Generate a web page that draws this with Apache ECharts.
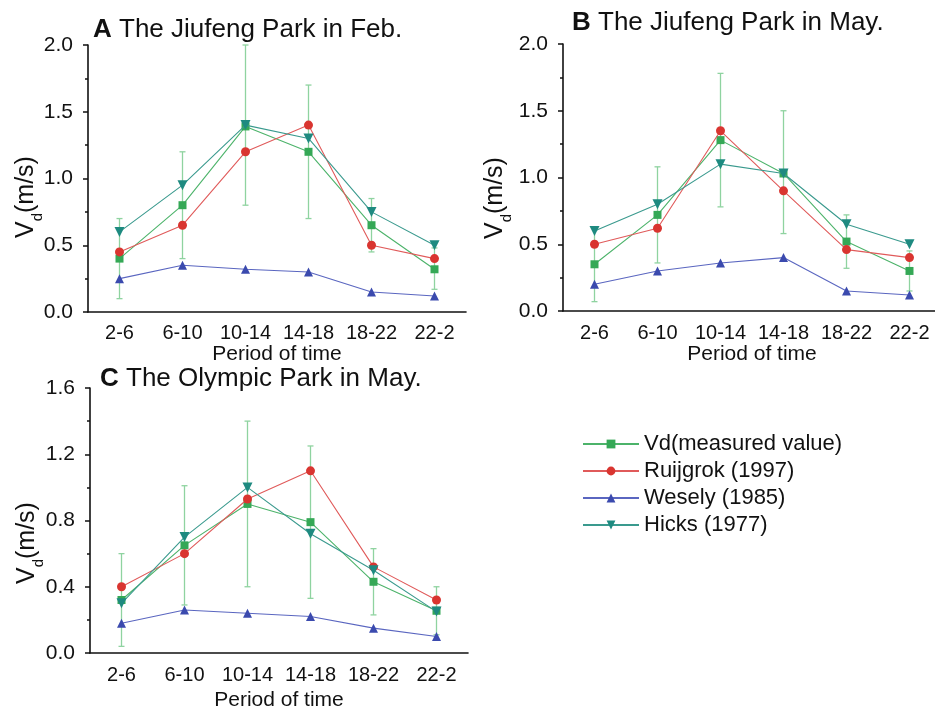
<!DOCTYPE html>
<html>
<head>
<meta charset="utf-8">
<script src="https://cdn.jsdelivr.net/npm/echarts@6/dist/echarts.min.js"></script>
<style>
html,body{margin:0;padding:0;background:#fff;}
#chart{width:935px;height:713px;}
</style>
</head>
<body>
<div id="chart"></div>
<script>
var periods = ['2-6', '6-10', '10-14', '14-18', '18-22', '22-2'];
var seriesNames = ['Vd(measured value)', 'Ruijgrok (1997)', 'Wesely (1985)', 'Hicks (1977)'];

// A - Jiufeng Park, Feb.
var vdA = [0.40, 0.80, 1.39, 1.20, 0.65, 0.32];
var vdLowA = [0.10, 0.40, 0.80, 0.70, 0.45, 0.17];
var vdHighA = [0.70, 1.20, 2.00, 1.70, 0.85, 0.48];
var ruijA = [0.45, 0.65, 1.20, 1.40, 0.50, 0.40];
var weseA = [0.25, 0.35, 0.32, 0.30, 0.15, 0.12];
var hickA = [0.60, 0.95, 1.40, 1.30, 0.75, 0.50];

// B - Jiufeng Park, May
var vdB = [0.35, 0.72, 1.28, 1.03, 0.52, 0.30];
var vdLowB = [0.07, 0.36, 0.78, 0.58, 0.32, 0.15];
var vdHighB = [0.62, 1.08, 1.78, 1.50, 0.72, 0.45];
var ruijB = [0.50, 0.62, 1.35, 0.90, 0.46, 0.40];
var weseB = [0.20, 0.30, 0.36, 0.40, 0.15, 0.12];
var hickB = [0.60, 0.80, 1.10, 1.03, 0.65, 0.50];

// C - Olympic Park, May
var vdC = [0.32, 0.65, 0.90, 0.79, 0.43, 0.255];
var vdLowC = [0.04, 0.29, 0.40, 0.33, 0.23, 0.11];
var vdHighC = [0.60, 1.01, 1.40, 1.25, 0.63, 0.40];
var ruijC = [0.40, 0.60, 0.93, 1.10, 0.52, 0.32];
var weseC = [0.18, 0.26, 0.24, 0.22, 0.15, 0.10];
var hickC = [0.30, 0.70, 1.00, 0.72, 0.50, 0.25];

var FONT = 'Liberation Sans, Arial, sans-serif';
var colors = ['#35a856', '#d93530', '#3b4aae', '#1e8a80'];
var lineColors = ['#4cb36a', '#e05a5a', '#5a66c0', '#3a9a8e'];

var panels = [
	{letter: 'A', title: ' The Jiufeng Park in Feb.', left: 88, top: 45, height: 267, max: 2.0, interval: 0.5,
	 tx: 93, ty: 30, nx: 26, ny: 196, labelMargin: 11, nameGap: 32,
	 vd: vdA, low: vdLowA, high: vdHighA, ruij: ruijA, wese: weseA, hick: hickA},
	{letter: 'B', title: ' The Jiufeng Park in May.', left: 563, top: 44, height: 267, max: 2.0, interval: 0.5,
	 tx: 572, ty: 23, nx: 495, ny: 197, labelMargin: 12, nameGap: 33,
	 vd: vdB, low: vdLowB, high: vdHighB, ruij: ruijB, wese: weseB, hick: hickB},
	{letter: 'C', title: ' The Olympic Park in May.', left: 90, top: 388, height: 265, max: 1.6, interval: 0.4,
	 tx: 100, ty: 379, nx: 27, ny: 542, labelMargin: 12, nameGap: 37,
	 vd: vdC, low: vdLowC, high: vdHighC, ruij: ruijC, wese: weseC, hick: hickC}
];

var grids = [], xAxes = [], yAxes = [], series = [], graphics = [];

function errorRender(params, api) {
	var x = api.value(0);
	var lo = api.coord([x, api.value(1)]);
	var hi = api.coord([x, api.value(2)]);
	var w = 3;
	var st = {stroke: '#8fd3a0', lineWidth: 1.3};
	return {
		type: 'group',
		children: [
			{type: 'line', shape: {x1: lo[0], y1: lo[1], x2: hi[0], y2: hi[1]}, style: st},
			{type: 'line', shape: {x1: lo[0] - w, y1: lo[1], x2: lo[0] + w, y2: lo[1]}, style: st},
			{type: 'line', shape: {x1: hi[0] - w, y1: hi[1], x2: hi[0] + w, y2: hi[1]}, style: st}
		]
	};
}

panels.forEach(function (p, gi) {
	grids.push({left: p.left, top: p.top, width: 378, height: p.height, outerBoundsMode: 'none'});
	// main axis: labels and ticks at category centres
	xAxes.push({
		type: 'category', gridIndex: gi, data: periods, position: 'bottom',
		name: 'Period of time', nameLocation: 'middle', nameGap: p.nameGap,
		nameTextStyle: {fontFamily: FONT, fontSize: 21, color: '#111'},
		axisLine: {lineStyle: {color: '#111', width: 1.6}},
		axisTick: {alignWithLabel: true, length: 5, lineStyle: {color: '#111', width: 1.5}},
		axisLabel: {fontFamily: FONT, fontSize: 20, color: '#111', margin: p.labelMargin, interval: 0},
		splitLine: {show: false}
	});
	// second axis only for the in-between ticks
	xAxes.push({
		type: 'category', gridIndex: gi, data: periods, position: 'bottom',
		axisLine: {show: false},
		axisTick: {length: 4, lineStyle: {color: '#111', width: 1.5}},
		axisLabel: {show: false},
		splitLine: {show: false}
	});
	yAxes.push({
		type: 'value', gridIndex: gi, min: 0, max: p.max, interval: p.interval,
		axisLine: {show: true, lineStyle: {color: '#111', width: 1.6}},
		axisTick: {show: true, length: 5, lineStyle: {color: '#111', width: 1.5}},
		minorTick: {show: true, splitNumber: 2, length: 3, lineStyle: {color: '#111', width: 1.5}},
		axisLabel: {fontFamily: FONT, fontSize: 21, color: '#111', margin: 15,
			formatter: function (v) { return v.toFixed(1); }},
		splitLine: {show: false}
	});

	var xi = gi * 2;
	var errData = p.low.map(function (v, i) { return [i, v, p.high[i]]; });
	series.push({
		type: 'custom', xAxisIndex: xi, yAxisIndex: gi, renderItem: errorRender,
		data: errData, z: 1, silent: true, clip: false
	});
	var sets = [p.vd, p.ruij, p.wese, p.hick];
	var symbols = ['rect', 'circle', 'triangle', 'triangle'];
	var sizes = [8, 9, 9, 10];
	var rotates = [0, 0, 0, 180];
	sets.forEach(function (d, si) {
		series.push({
			name: seriesNames[si], type: 'line', xAxisIndex: xi, yAxisIndex: gi,
			data: d, symbol: symbols[si], symbolSize: sizes[si], symbolRotate: rotates[si],
			showAllSymbol: true, z: 2 + si, animation: false,
			itemStyle: {color: colors[si]},
			lineStyle: {color: lineColors[si], width: 1.1}
		});
	});

	// panel title
	graphics.push({
		type: 'text', x: p.tx, y: p.ty,
		style: {
			text: '{b|' + p.letter + '}{n|' + p.title + '}',
			verticalAlign: 'middle', align: 'left',
			rich: {
				b: {fontFamily: FONT, fontSize: 26, fontWeight: 'bold', fill: '#111'},
				n: {fontFamily: FONT, fontSize: 26, fill: '#111'}
			}
		}
	});
	// y axis name V_d(m/s), rotated
	graphics.push({
		type: 'group', x: p.nx, y: p.ny, rotation: Math.PI / 2,
		children: [
			{type: 'text', x: -42, y: 0, style: {text: 'V', fontFamily: FONT, fontSize: 25, fill: '#111', verticalAlign: 'middle', align: 'left'}},
			{type: 'text', x: -25.3, y: 12, style: {text: 'd', fontFamily: FONT, fontSize: 15, fill: '#111', verticalAlign: 'middle', align: 'left'}},
			{type: 'text', x: -17, y: 0, style: {text: '(m/s)', fontFamily: FONT, fontSize: 25, fill: '#111', verticalAlign: 'middle', align: 'left'}}
		]
	});
});

var option = {
	backgroundColor: '#fff',
	animation: false,
	grid: grids,
	xAxis: xAxes,
	yAxis: yAxes,
	legend: {
		data: seriesNames,
		orient: 'vertical', left: 577, top: 428,
		itemWidth: 56, itemHeight: 11, itemGap: 5,
		textStyle: {fontFamily: FONT, fontSize: 22, color: '#111', lineHeight: 22}
	},
	graphic: graphics,
	series: series
};

var myChart = echarts.init(document.getElementById('chart'));
myChart.setOption(option);
</script>
</body>
</html>
